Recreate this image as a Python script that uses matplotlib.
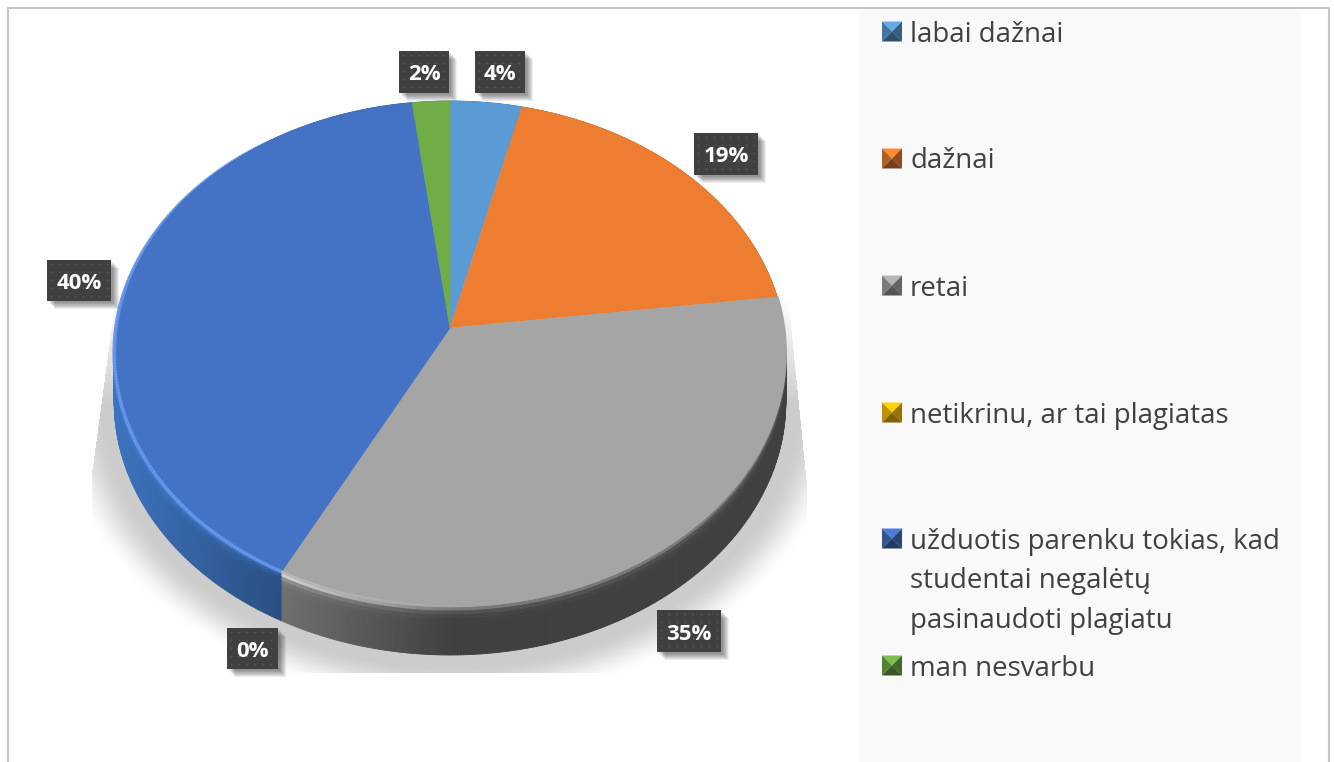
import numpy as np
import matplotlib
matplotlib.use("Agg")
import matplotlib.pyplot as plt
from matplotlib.patches import Polygon, Rectangle
from matplotlib.collections import PolyCollection, LineCollection
from matplotlib.colors import to_rgb

categories = ["labai dažnai", "dažnai", "retai", "netikrinu, ar tai plagiatas",
              "užduotis parenku tokias, kad\nstudentai negalėtų\npasinaudoti plagiatu", "man nesvarbu"]
values = [3.8, 19.2, 34.6, 0, 40.4, 2]
labels = ["4%", "19%", "35%", "0%", "40%", "2%"]
colors = ["#5b9bd5", "#ed7d31", "#a5a5a5", "#ffc000", "#4472c4", "#70ad47"]
wall_colors = ["#3a6f9f", "#b05a20", "#6a6a6a", "#c09000", "#33609f", "#4f8030"]
label_boxes = [(475, 51, 50, 42), (694, 133, 64, 42), (657, 610, 64, 42),
               (227, 628, 51, 41), (47, 260, 64, 41), (399, 51, 50, 42)]
legend_y = [31, 158, 285, 412, 538, 665]

W, H = 1334, 762
fig = plt.figure(figsize=(W / 100, H / 100), dpi=100)
ax = fig.add_axes([0, 0, 1, 1])
ax.set_xlim(0, W); ax.set_ylim(H, 0); ax.axis("off")
FONT = "Open Sans"

# frame and legend panel
ax.add_patch(Rectangle((859, 8), 442, 754, fc="#f9f9f9", ec="none", zorder=0))
ax.plot([8, 8, 1329, 1329], [H, 7.5, 7.5, H], color="#c4c4c4", lw=1.5, zorder=1)

# perspective model of the pie top
CX, CY, A, B, K, DEPTH = 450, 328, 334, 250.3, -0.1028, 48
def P(theta):
    u, v = np.sin(theta), -np.cos(theta)
    d = 1 + K * v
    return CX + A * u / d, CY + B * v / d

# soft shadow, clipped by a slanted-sided box as in the reference
xx, yy = np.meshgrid(np.arange(90, 810), np.arange(285, 674))
r = np.sqrt(((xx - 450) / 372.0) ** 2 + ((yy - 395) / 290.0) ** 2)
a = np.clip((1.07 - r) / 0.14, 0, 1)
a = a * a * (3 - 2 * a)
left_edge = np.where(yy < 470, 115 - 23 * (yy - 300) / 170.0, 92)
right_edge = np.where(yy < 480, 787 + 19 * (yy - 290) / 190.0, 806)
a = a * (xx >= left_edge) * (xx <= right_edge) * (yy < 673)
a = a * np.clip((yy - 295) / 110.0, 0, 1)
img = np.zeros(a.shape + (4,))
img[..., :3] = 0.80
img[..., 3] = a
ax.imshow(img, extent=(90, 810, 674, 285), zorder=2, interpolation="bilinear", aspect="auto")
ax.set_xlim(0, W); ax.set_ylim(H, 0)

total = sum(values)
edges = np.concatenate([[0], np.cumsum(values)]) / total * 2 * np.pi

# side wall
for i, c in enumerate(wall_colors):
    if values[i] == 0:
        continue
    th = np.linspace(edges[i], edges[i + 1], max(int(values[i] * 8), 4))
    x, y = P(th)
    base = np.array(to_rgb(c))
    is_gray = c == "#6a6a6a"
    polys, cols = [], []
    layers = 12
    for j in range(len(th) - 1):
        mx = (x[j] + x[j + 1]) / 2
        if is_gray:
            sx = 1.05 - 0.45 * np.clip((mx - 281) / 170.0, 0, 1)
        else:
            sx = 1.2 - 0.38 * np.clip((mx - 114) / 165.0, 0, 1)
        for l in range(layers):
            t0, t1 = l / layers, (l + 1) / layers
            sh = sx * (1.0 + (0.9 if is_gray else 0.25) * np.exp(-t0 * 14))
            polys.append([(x[j], y[j] + DEPTH * t0), (x[j + 1], y[j + 1] + DEPTH * t0),
                          (x[j + 1], y[j + 1] + DEPTH * t1), (x[j], y[j] + DEPTH * t1)])
            cols.append(np.clip(base * sh, 0, 1))
    ax.add_collection(PolyCollection(polys, facecolors=cols, edgecolors=cols, linewidths=0.6, zorder=3))

# top slices
for i, c in enumerate(colors):
    if values[i] == 0:
        continue
    th = np.linspace(edges[i], edges[i + 1], max(int(values[i] * 6), 4))
    x, y = P(th)
    ax.add_patch(Polygon(np.column_stack([np.r_[CX, x], np.r_[CY, y]]), closed=True,
                         fc=c, ec=c, lw=0.4, zorder=4))

# bevel highlights on the front rim
def rim(i, color_fn, width_fn):
    th = np.linspace(edges[i], edges[i + 1], 240)
    x, y = P(th)
    segs, cs, ws = [], [], []
    for j in range(len(th) - 1):
        segs.append([(x[j], y[j] - 1.2), (x[j + 1], y[j + 1] - 1.2)])
        cs.append(color_fn(x[j]))
        ws.append(width_fn(np.degrees(th[j])))
    ax.add_collection(LineCollection(segs, colors=cs, linewidths=ws, zorder=5, capstyle="butt"))

rim(4, lambda _: "#6495ea", lambda d: 2.6 * np.clip((325 - d) / 50.0, 0, 1))
gray_lo, gray_hi = np.array(to_rgb("#bababa")), np.array(to_rgb("#a5a5a5"))
rim(2, lambda px: gray_hi + (gray_lo - gray_hi) * np.clip((480 - px) / 200.0, 0, 1),
    lambda d: 1.6)

# data labels
for (x0, y0, w, h), s in zip(label_boxes, labels):
    for o in range(2, 9):
        ax.add_patch(Rectangle((x0 + o, y0 + o), w, h, fc="black", ec="none", alpha=0.07, zorder=6))
    ax.add_patch(Rectangle((x0, y0), w, h, fc="#404040", ec="none", zorder=7))
    dx = np.arange(x0 + 4, x0 + w - 1, 8.0)
    dy = np.arange(y0 + 4, y0 + h - 1, 8.0)
    gx, gy = np.meshgrid(dx, dy)
    ax.scatter(gx.ravel(), gy.ravel(), s=1.6, c="#575757", linewidths=0, zorder=8)
    ax.text(x0 + w / 2, y0 + h / 2 + 3, s, color="white", fontsize=16.0, fontweight="bold",
            ha="center", va="center", family=FONT, zorder=9)

# legend
for yc, c, s in zip(legend_y, colors, categories):
    x0, y0, q = 882, yc - 9.5, 20
    base = np.array(to_rgb(c))
    mid = (x0 + q / 2, y0 + q / 2)
    tl, tr, br, bl = (x0, y0), (x0 + q, y0), (x0 + q, y0 + q), (x0, y0 + q)
    for pts, f in (((tl, tr, mid), 1.1), ((tr, br, mid), 0.6), ((br, bl, mid), 0.5), ((bl, tl, mid), 0.75)):
        ax.add_patch(Polygon(pts, closed=True, fc=np.clip(base * f, 0, 1), ec="none", zorder=6))
    ax.text(910, yc - 10.5, s, color="#404040", fontsize=19.87, family=FONT, ha="left", va="top",
            linespacing=1.55, zorder=7)

fig.savefig("out.png", dpi=100)
